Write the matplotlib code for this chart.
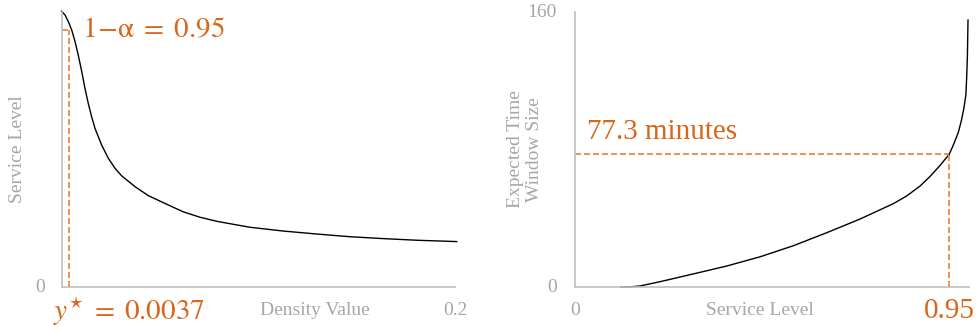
import matplotlib.pyplot as plt
from matplotlib import transforms

plt.rcParams['font.family'] = ['Liberation Serif', 'DejaVu Serif']
plt.rcParams['mathtext.fontset'] = 'stix'

# service level as a function of the density value
density = [0.0, 0.0018, 0.0035, 0.0052, 0.0069, 0.0085, 0.0103, 0.0119, 0.0136,
           0.0153, 0.0170, 0.0204, 0.0238, 0.0272, 0.0306, 0.0374, 0.0441, 0.0535,
           0.0619, 0.0704, 0.0789, 0.0873, 0.0958, 0.1127, 0.1297, 0.1466, 0.1636,
           0.1805, 0.2009]
service = [1.020, 1.006, 0.981, 0.950, 0.907, 0.858, 0.796, 0.735, 0.679,
           0.630, 0.587, 0.525, 0.476, 0.439, 0.411, 0.371, 0.338, 0.306,
           0.278, 0.258, 0.243, 0.232, 0.221, 0.207, 0.196, 0.186, 0.179,
           0.173, 0.168]
y_star = 0.0037
target = 0.95

# expected time window size as a function of the service level
level = [0.117, 0.140, 0.165, 0.216, 0.300, 0.385, 0.470, 0.554, 0.639, 0.723,
         0.808, 0.842, 0.876, 0.901, 0.926, 0.95, 0.960, 0.973, 0.981, 0.987,
         0.992, 0.994, 0.996, 0.9975]
window = [0.0, 0.1, 0.6, 3.1, 7.6, 12.2, 17.6, 24.0, 31.6, 39.5,
          48.5, 53.0, 58.8, 64.3, 70.6, 77.3, 82.5, 90.0, 97.2, 104.0,
          111.7, 121.4, 135.0, 155.3]
window_at_target = 77.3

grey = '#A6A6A6'
axis_grey = '#BFBFBF'
orange = '#D9661A'
dash_orange = '#ED7D31'
dash = (3.6, 1.8)

fig = plt.figure(figsize=(9.78, 3.33), dpi=100)
ax1 = fig.add_axes([0.0629, 0.1381, 0.4023, 0.8258])
ax2 = fig.add_axes([0.5879, 0.1381, 0.4029, 0.8258])

for ax in (ax1, ax2):
    for s in ('top', 'right'):
        ax.spines[s].set_visible(False)
    for s in ('left', 'bottom'):
        ax.spines[s].set_color(axis_grey)
        ax.spines[s].set_linewidth(1.2)
    ax.set_xticks([])
    ax.set_yticks([])

# left panel
ax1.set_xlim(0, 0.2)
ax1.set_ylim(0, 1.017)
ax1.plot(density, service, color='black', lw=1.0, clip_on=False)
ax1.plot([0, y_star], [target, target], color=dash_orange, lw=1.2, dashes=dash)
ax1.plot([y_star, y_star], [0, target], color=dash_orange, lw=1.2, dashes=dash)

tr1 = transforms.blended_transform_factory(ax1.transData, ax1.transAxes)
ax1.text(0.0104, target, r'$1\!-\!\mathrm{\alpha}\;=\;0.95$', color=orange,
         fontsize=21, va='center', ha='left')
ax1.text(0.034, -0.087, r'$y^{\star}\;=\;0.0037$', color=orange, fontsize=21,
         transform=tr1, va='center', ha='center')
ax1.text(0.1288, -0.087, 'Density Value', color=grey, fontsize=14,
         transform=tr1, va='center', ha='center')
ax1.text(0.2, -0.087, '0.2', color=grey, fontsize=14,
         transform=tr1, va='center', ha='center')
ax1.text(-0.042, 0, '0', color=grey, fontsize=14,
         transform=ax1.transAxes, va='center', ha='right')
ax1.text(-0.113, 0.5, 'Service Level', color=grey, fontsize=14, rotation=90,
         transform=ax1.transAxes, va='center', ha='center')

# right panel
ax2.set_xlim(0, 1.0)
ax2.set_ylim(0, 160)
ax2.plot(level, window, color='black', lw=1.0, clip_on=False)
ax2.plot([0, target], [window_at_target, window_at_target], color=dash_orange,
         lw=1.2, dashes=dash)
ax2.plot([target, target], [0, window_at_target], color=dash_orange, lw=1.2,
         dashes=dash)

tr2 = transforms.blended_transform_factory(ax2.transData, ax2.transAxes)
tr2y = transforms.blended_transform_factory(ax2.transAxes, ax2.transData)
ax2.text(0.03, 90.0, '77.3 minutes', color=orange, fontsize=21,
         va='center', ha='left')
ax2.text(target, -0.087, '0.95', color=orange, fontsize=21,
         transform=tr2, va='center', ha='center')
ax2.text(0, -0.087, '0', color=grey, fontsize=14,
         transform=tr2, va='center', ha='center')
ax2.text(0.4695, -0.087, 'Service Level', color=grey, fontsize=14,
         transform=tr2, va='center', ha='center')
ax2.text(-0.0457, 160, '160', color=grey, fontsize=14,
         transform=tr2y, va='center', ha='right')
ax2.text(-0.0457, 0, '0', color=grey, fontsize=14,
         transform=tr2y, va='center', ha='right')
ax2.text(-0.127, 0.5, 'Expected Time\nWindow Size', color=grey, fontsize=14,
         rotation=90, linespacing=1.15, transform=ax2.transAxes,
         va='center', ha='center')

fig.savefig('out.png', dpi=100)
